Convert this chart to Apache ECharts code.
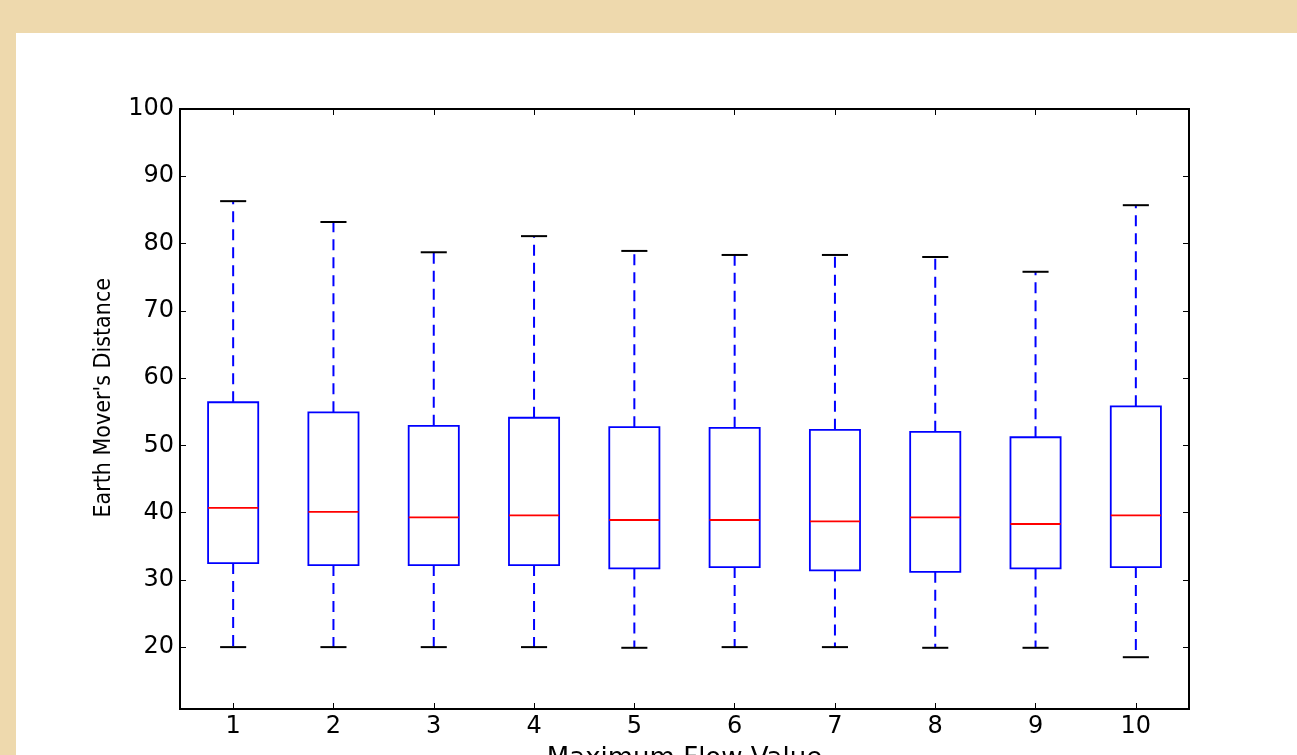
<!DOCTYPE html>
<html>
<head>
<meta charset="utf-8">
<script src="https://cdn.jsdelivr.net/npm/echarts@6/dist/echarts.min.js"></script>
<style>
  html, body { margin: 0; padding: 0; background: #eed9ad; }
  #chart { width: 1297px; height: 755px; }
</style>
</head>
<body>
<div id="chart"></div>
<script>
// Maximum flow values (x positions)
const flowValues = [1, 2, 3, 4, 5, 6, 7, 8, 9, 10]
// Box statistics
const whiskerLow = [20.0, 20.0, 20.0, 20.0, 19.9, 20.0, 20.0, 19.9, 19.9, 18.5]
const quartile1 = [32.5, 32.2, 32.2, 32.2, 31.7, 31.9, 31.4, 31.2, 31.7, 31.9]
const medians = [40.7, 40.1, 39.3, 39.6, 38.9, 38.9, 38.7, 39.3, 38.3, 39.6]
const quartile3 = [56.4, 54.9, 52.9, 54.1, 52.7, 52.6, 52.3, 52.0, 51.2, 55.8]
const whiskerHigh = [86.3, 83.2, 78.7, 81.1, 78.9, 78.3, 78.3, 78.0, 75.8, 85.7]
// Tick labels
const yTicks = [20, 30, 40, 50, 60, 70, 80, 90, 100]
const xTicks = flowValues

const boxData = flowValues.map((x, i) => [x, whiskerLow[i], quartile1[i], medians[i], quartile3[i], whiskerHigh[i]])

const chart = echarts.init(document.getElementById('chart'))

const BOX_HALF = 0.25
const CAP_HALF = 0.13

function renderBox(params, api) {
  const x = api.value(0)
  const pLow = api.coord([x, api.value(1)])
  const pQ1 = api.coord([x, api.value(2)])
  const pMed = api.coord([x, api.value(3)])
  const pQ3 = api.coord([x, api.value(4)])
  const pHigh = api.coord([x, api.value(5)])
  const bl = api.coord([x - BOX_HALF, api.value(2)])
  const br = api.coord([x + BOX_HALF, api.value(4)])
  const cl = api.coord([x - CAP_HALF, 0])[0]
  const cr = api.coord([x + CAP_HALF, 0])[0]

  const whisker = { stroke: '#0000ff', lineWidth: 2, lineDash: [11, 7] }
  const cap = { stroke: '#000000', lineWidth: 2 }

  return {
    type: 'group',
    children: [
      { type: 'line', shape: { x1: pQ3[0], y1: pQ3[1], x2: pHigh[0], y2: pHigh[1] }, style: whisker },
      { type: 'line', shape: { x1: pQ1[0], y1: pQ1[1], x2: pLow[0], y2: pLow[1] }, style: whisker },
      { type: 'line', shape: { x1: cl, y1: pHigh[1], x2: cr, y2: pHigh[1] }, style: cap },
      { type: 'line', shape: { x1: cl, y1: pLow[1], x2: cr, y2: pLow[1] }, style: cap },
      {
        type: 'rect',
        shape: { x: bl[0], y: br[1], width: br[0] - bl[0], height: bl[1] - br[1] },
        style: { fill: '#ffffff', stroke: '#0000ff', lineWidth: 1.8 }
      },
      { type: 'line', shape: { x1: bl[0], y1: pMed[1], x2: br[0], y2: pMed[1] }, style: { stroke: '#ff0000', lineWidth: 1.8 } }
    ]
  }
}

const tickFont = { color: '#000', fontSize: 24, fontFamily: 'DejaVu Sans' }

const option = {
  backgroundColor: '#eed9ad',
  animation: false,
  graphic: [
    { type: 'rect', z: -10, shape: { x: 16, y: 33, width: 1281, height: 722 }, style: { fill: '#ffffff' } },
    {
      type: 'text', left: 93, top: 278, rotation: Math.PI / 2, z: 10,
      style: { text: "Earth Mover's Distance", fill: '#000', fontSize: 23, fontFamily: 'DejaVu Sans Condensed, Liberation Sans Narrow, sans-serif' }
    }
  ],
  grid: {
    left: 180, right: 108, top: 109, bottom: 46,
    outerBoundsMode: 'none',
    containLabel: false,
    show: true, borderColor: '#000', borderWidth: 2, backgroundColor: 'transparent'
  },
  xAxis: [
    {
      type: 'value', min: 0.47, max: 10.53, position: 'bottom',
      name: 'Maximum Flow Value', nameLocation: 'middle', nameGap: 37,
      nameTextStyle: { color: '#000', fontSize: 26, fontFamily: 'DejaVu Sans' },
      axisLine: { show: true, lineStyle: { color: '#000', width: 2 } },
      axisTick: { show: true, inside: true, length: 6, customValues: xTicks, lineStyle: { color: '#000' } },
      axisLabel: { show: true, margin: 6, customValues: xTicks, ...tickFont },
      splitLine: { show: false }
    },
    {
      type: 'value', min: 0.47, max: 10.53, position: 'top',
      axisLine: { show: true, lineStyle: { color: '#000', width: 2 } },
      axisTick: { show: true, inside: true, length: 6, customValues: xTicks, lineStyle: { color: '#000' } },
      axisLabel: { show: false },
      splitLine: { show: false }
    }
  ],
  yAxis: [
    {
      type: 'value', min: 10.8, max: 100, position: 'left',
      axisLine: { show: true, lineStyle: { color: '#000', width: 2 } },
      axisTick: { show: true, inside: true, length: 6, customValues: yTicks, lineStyle: { color: '#000' } },
      axisLabel: { show: true, margin: 6, customValues: yTicks, ...tickFont },
      splitLine: { show: false }
    },
    {
      type: 'value', min: 10.8, max: 100, position: 'right',
      axisLine: { show: true, lineStyle: { color: '#000', width: 2 } },
      axisTick: { show: true, inside: true, length: 6, customValues: yTicks, lineStyle: { color: '#000' } },
      axisLabel: { show: false },
      splitLine: { show: false }
    }
  ],
  series: [
    {
      type: 'custom',
      xAxisIndex: 0,
      yAxisIndex: 0,
      renderItem: renderBox,
      data: boxData,
      clip: true
    }
  ]
}

chart.setOption(option)
</script>
</body>
</html>
